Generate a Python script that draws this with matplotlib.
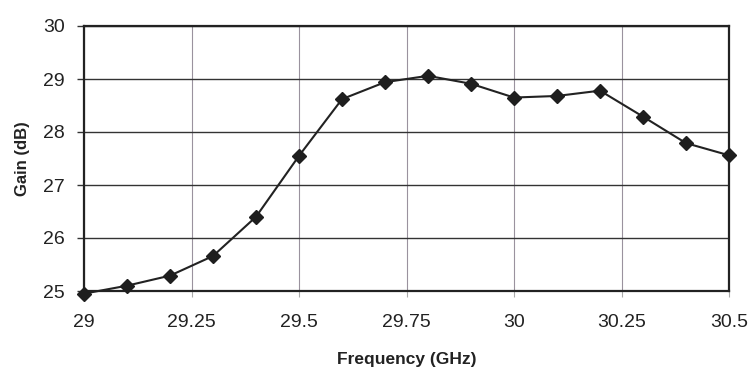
import matplotlib.pyplot as plt

# gain vs frequency
freq = [29.0, 29.1, 29.2, 29.3, 29.4, 29.5, 29.6, 29.7,
        29.8, 29.9, 30.0, 30.1, 30.2, 30.3, 30.4, 30.5]
gain = [24.95, 25.1, 25.29, 25.66, 26.4, 27.55, 28.62, 28.94,
        29.06, 28.91, 28.65, 28.68, 28.78, 28.29, 27.79, 27.56]

x_ticks = [29, 29.25, 29.5, 29.75, 30, 30.25, 30.5]
x_labels = ['29', '29.25', '29.5', '29.75', '30', '30.25', '30.5']
y_ticks = [25, 26, 27, 28, 29, 30]

plt.rcParams['font.family'] = ['Liberation Sans', 'DejaVu Sans']

fig = plt.figure(figsize=(7.51, 3.69), dpi=100)
ax = fig.add_axes([84/751, 78/369, 645/751, 265/369])

ax.plot(freq, gain, color='#222222', lw=1.5, marker='D', markersize=7,
        markerfacecolor='#1e1e1e', markeredgecolor='#1e1e1e', zorder=3, clip_on=False)

ax.set_xlim(29, 30.5)
ax.set_ylim(25, 30)
ax.set_xticks(x_ticks)
ax.set_xticklabels(x_labels)
ax.set_yticks(y_ticks)

ax.grid(axis='y', color='#333333', lw=1.0)
ax.grid(axis='x', color='#9a929e', lw=0.8)
ax.set_axisbelow(True)

for s in ax.spines.values():
    s.set_color('#222222')
    s.set_linewidth(1.6)

ax.tick_params(axis='y', direction='out', length=5, width=1, color='#333333',
               labelsize=14, pad=9, labelcolor='#222222')
ax.tick_params(axis='x', direction='out', length=4, width=0.8, color='#aaaaaa',
               labelsize=14, pad=12.5, labelcolor='#222222')

ax.set_xlabel('Frequency (GHz)', fontsize=12.5, fontweight='bold', labelpad=15, color='#222222')
ax.set_ylabel('Gain (dB)', fontsize=12, fontweight='bold', labelpad=9, color='#222222')

fig.savefig('out.png', dpi=100)
